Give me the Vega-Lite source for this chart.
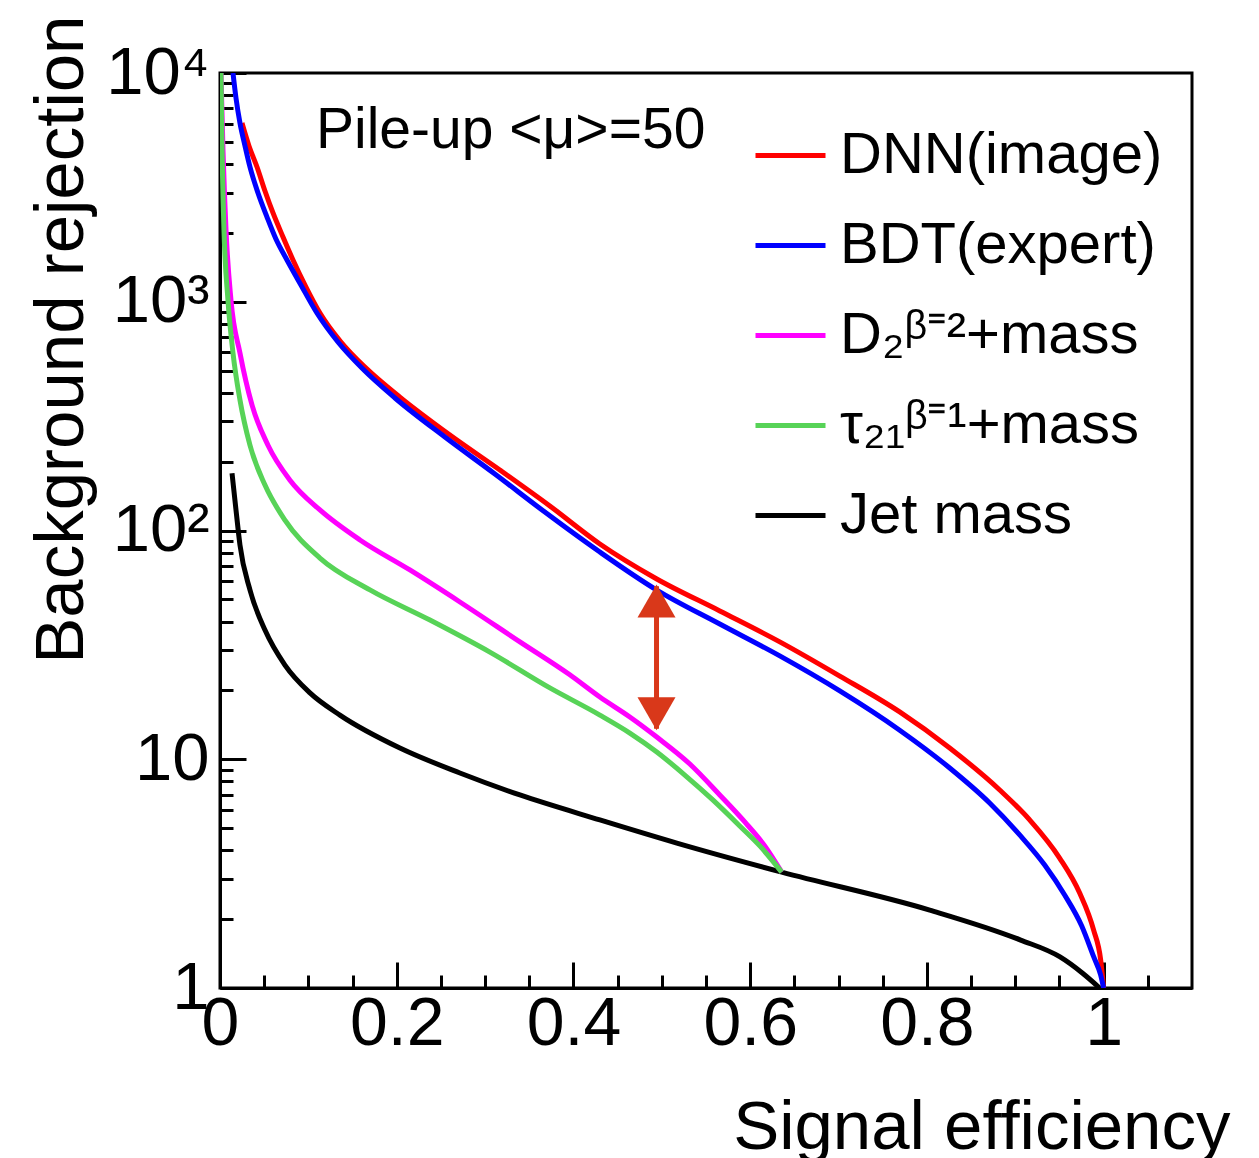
{
  "$schema": "https://vega.github.io/schema/vega-lite/v6.json",
  "width": 972,
  "height": 915,
  "autosize": {"type": "none"},
  "padding": {"left": 220, "top": 73, "right": 67, "bottom": 170},
  "background": "white",
  "config": {
    "view": {"stroke": "black", "strokeWidth": 3},
    "font": "Liberation Sans"
  },
  "datasets": {
    "roc": [
      {"method": "Jet mass", "eff": 0.0136, "rej": 178},
      {"method": "Jet mass", "eff": 0.0181, "rej": 123},
      {"method": "Jet mass", "eff": 0.0226, "rej": 86.4},
      {"method": "Jet mass", "eff": 0.0339, "rej": 55},
      {"method": "Jet mass", "eff": 0.0509, "rej": 36.7},
      {"method": "Jet mass", "eff": 0.0735, "rej": 25.8},
      {"method": "Jet mass", "eff": 0.1018, "rej": 19.5},
      {"method": "Jet mass", "eff": 0.1357, "rej": 15.6},
      {"method": "Jet mass", "eff": 0.2036, "rej": 11.2},
      {"method": "Jet mass", "eff": 0.2715, "rej": 8.71},
      {"method": "Jet mass", "eff": 0.3394, "rej": 6.98},
      {"method": "Jet mass", "eff": 0.4299, "rej": 5.43},
      {"method": "Jet mass", "eff": 0.517, "rej": 4.30},
      {"method": "Jet mass", "eff": 0.6357, "rej": 3.21},
      {"method": "Jet mass", "eff": 0.8032, "rej": 2.19},
      {"method": "Jet mass", "eff": 0.9061, "rej": 1.62},
      {"method": "Jet mass", "eff": 0.9502, "rej": 1.37},
      {"method": "Jet mass", "eff": 0.9762, "rej": 1.16},
      {"method": "Jet mass", "eff": 0.9955, "rej": 1.0},

      {"method": "DNN(image)", "eff": 0.0249, "rej": 6045},
      {"method": "DNN(image)", "eff": 0.0328, "rej": 4797},
      {"method": "DNN(image)", "eff": 0.0419, "rej": 3883},
      {"method": "DNN(image)", "eff": 0.0509, "rej": 3050},
      {"method": "DNN(image)", "eff": 0.06, "rej": 2444},
      {"method": "DNN(image)", "eff": 0.0713, "rej": 1919},
      {"method": "DNN(image)", "eff": 0.0826, "rej": 1523},
      {"method": "DNN(image)", "eff": 0.0973, "rej": 1160},
      {"method": "DNN(image)", "eff": 0.1131, "rej": 893},
      {"method": "DNN(image)", "eff": 0.1369, "rej": 667},
      {"method": "DNN(image)", "eff": 0.1652, "rej": 513},
      {"method": "DNN(image)", "eff": 0.2036, "rej": 383},
      {"method": "DNN(image)", "eff": 0.2602, "rej": 261.5},
      {"method": "DNN(image)", "eff": 0.3167, "rej": 183.9},
      {"method": "DNN(image)", "eff": 0.3733, "rej": 128},
      {"method": "DNN(image)", "eff": 0.4299, "rej": 87.3},
      {"method": "DNN(image)", "eff": 0.4943, "rej": 61.4},
      {"method": "DNN(image)", "eff": 0.5656, "rej": 44.5},
      {"method": "DNN(image)", "eff": 0.6335, "rej": 32.6},
      {"method": "DNN(image)", "eff": 0.7014, "rej": 23.1},
      {"method": "DNN(image)", "eff": 0.7692, "rej": 16.1},
      {"method": "DNN(image)", "eff": 0.8258, "rej": 11.2},
      {"method": "DNN(image)", "eff": 0.8824, "rej": 7.34},
      {"method": "DNN(image)", "eff": 0.9163, "rej": 5.43},
      {"method": "DNN(image)", "eff": 0.9502, "rej": 3.70},
      {"method": "DNN(image)", "eff": 0.9729, "rej": 2.60},
      {"method": "DNN(image)", "eff": 0.9887, "rej": 1.79},
      {"method": "DNN(image)", "eff": 0.9966, "rej": 1.33},
      {"method": "DNN(image)", "eff": 1.0, "rej": 1.0},

      {"method": "BDT(expert)", "eff": 0.0147, "rej": 10000},
      {"method": "BDT(expert)", "eff": 0.0181, "rej": 7777},
      {"method": "BDT(expert)", "eff": 0.0226, "rej": 6045},
      {"method": "BDT(expert)", "eff": 0.0283, "rej": 4797},
      {"method": "BDT(expert)", "eff": 0.0339, "rej": 3883},
      {"method": "BDT(expert)", "eff": 0.043, "rej": 2989},
      {"method": "BDT(expert)", "eff": 0.0532, "rej": 2346},
      {"method": "BDT(expert)", "eff": 0.0633, "rej": 1881},
      {"method": "BDT(expert)", "eff": 0.0758, "rej": 1523},
      {"method": "BDT(expert)", "eff": 0.0916, "rej": 1184},
      {"method": "BDT(expert)", "eff": 0.1097, "rej": 893},
      {"method": "BDT(expert)", "eff": 0.1335, "rej": 667},
      {"method": "BDT(expert)", "eff": 0.1606, "rej": 513},
      {"method": "BDT(expert)", "eff": 0.198, "rej": 379.6},
      {"method": "BDT(expert)", "eff": 0.2545, "rej": 256.3},
      {"method": "BDT(expert)", "eff": 0.3111, "rej": 176.6},
      {"method": "BDT(expert)", "eff": 0.3676, "rej": 120.4},
      {"method": "BDT(expert)", "eff": 0.4299, "rej": 80.5},
      {"method": "BDT(expert)", "eff": 0.4943, "rej": 54.9},
      {"method": "BDT(expert)", "eff": 0.5656, "rej": 39.0},
      {"method": "BDT(expert)", "eff": 0.6335, "rej": 28.3},
      {"method": "BDT(expert)", "eff": 0.7014, "rej": 19.9},
      {"method": "BDT(expert)", "eff": 0.7692, "rej": 13.4},
      {"method": "BDT(expert)", "eff": 0.8258, "rej": 9.16},
      {"method": "BDT(expert)", "eff": 0.871, "rej": 6.44},
      {"method": "BDT(expert)", "eff": 0.905, "rej": 4.67},
      {"method": "BDT(expert)", "eff": 0.9333, "rej": 3.45},
      {"method": "BDT(expert)", "eff": 0.9559, "rej": 2.55},
      {"method": "BDT(expert)", "eff": 0.9751, "rej": 1.87},
      {"method": "BDT(expert)", "eff": 0.9887, "rej": 1.37},
      {"method": "BDT(expert)", "eff": 0.9966, "rej": 1.14},
      {"method": "BDT(expert)", "eff": 1.0, "rej": 1.0},

      {"method": "D₂ᵝ⁼²+mass", "eff": 0.0011, "rej": 10000},
      {"method": "D₂ᵝ⁼²+mass", "eff": 0.0034, "rej": 4605},
      {"method": "D₂ᵝ⁼²+mass", "eff": 0.0068, "rej": 2060},
      {"method": "D₂ᵝ⁼²+mass", "eff": 0.0124, "rej": 1018},
      {"method": "D₂ᵝ⁼²+mass", "eff": 0.0226, "rej": 597},
      {"method": "D₂ᵝ⁼²+mass", "eff": 0.0362, "rej": 354},
      {"method": "D₂ᵝ⁼²+mass", "eff": 0.0543, "rej": 236},
      {"method": "D₂ᵝ⁼²+mass", "eff": 0.0792, "rej": 166},
      {"method": "D₂ᵝ⁼²+mass", "eff": 0.1131, "rej": 123},
      {"method": "D₂ᵝ⁼²+mass", "eff": 0.1584, "rej": 90.9},
      {"method": "D₂ᵝ⁼²+mass", "eff": 0.2149, "rej": 67.2},
      {"method": "D₂ᵝ⁼²+mass", "eff": 0.2715, "rej": 48.7},
      {"method": "D₂ᵝ⁼²+mass", "eff": 0.3394, "rej": 32.6},
      {"method": "D₂ᵝ⁼²+mass", "eff": 0.3959, "rej": 23.4},
      {"method": "D₂ᵝ⁼²+mass", "eff": 0.4299, "rej": 18.7},
      {"method": "D₂ᵝ⁼²+mass", "eff": 0.4638, "rej": 15.3},
      {"method": "D₂ᵝ⁼²+mass", "eff": 0.4943, "rej": 12.5},
      {"method": "D₂ᵝ⁼²+mass", "eff": 0.5317, "rej": 9.53},
      {"method": "D₂ᵝ⁼²+mass", "eff": 0.5656, "rej": 6.98},
      {"method": "D₂ᵝ⁼²+mass", "eff": 0.5939, "rej": 5.32},
      {"method": "D₂ᵝ⁼²+mass", "eff": 0.6165, "rej": 4.18},
      {"method": "D₂ᵝ⁼²+mass", "eff": 0.6357, "rej": 3.21},

      {"method": "τ₂₁ᵝ⁼¹+mass", "eff": 0.0011, "rej": 10000},
      {"method": "τ₂₁ᵝ⁼¹+mass", "eff": 0.0023, "rej": 4605},
      {"method": "τ₂₁ᵝ⁼¹+mass", "eff": 0.0045, "rej": 2060},
      {"method": "τ₂₁ᵝ⁼¹+mass", "eff": 0.009, "rej": 1018},
      {"method": "τ₂₁ᵝ⁼¹+mass", "eff": 0.0147, "rej": 597},
      {"method": "τ₂₁ᵝ⁼¹+mass", "eff": 0.0226, "rej": 372},
      {"method": "τ₂₁ᵝ⁼¹+mass", "eff": 0.0339, "rej": 236},
      {"method": "τ₂₁ᵝ⁼¹+mass", "eff": 0.0509, "rej": 158},
      {"method": "τ₂₁ᵝ⁼¹+mass", "eff": 0.0735, "rej": 111},
      {"method": "τ₂₁ᵝ⁼¹+mass", "eff": 0.1131, "rej": 75.8},
      {"method": "τ₂₁ᵝ⁼¹+mass", "eff": 0.1697, "rej": 55},
      {"method": "τ₂₁ᵝ⁼¹+mass", "eff": 0.2376, "rej": 40.6},
      {"method": "τ₂₁ᵝ⁼¹+mass", "eff": 0.3054, "rej": 29.4},
      {"method": "τ₂₁ᵝ⁼¹+mass", "eff": 0.3733, "rej": 20.5},
      {"method": "τ₂₁ᵝ⁼¹+mass", "eff": 0.4299, "rej": 15.6},
      {"method": "τ₂₁ᵝ⁼¹+mass", "eff": 0.4638, "rej": 13.02},
      {"method": "τ₂₁ᵝ⁼¹+mass", "eff": 0.4943, "rej": 10.76},
      {"method": "τ₂₁ᵝ⁼¹+mass", "eff": 0.526, "rej": 8.53},
      {"method": "τ₂₁ᵝ⁼¹+mass", "eff": 0.5577, "rej": 6.64},
      {"method": "τ₂₁ᵝ⁼¹+mass", "eff": 0.5882, "rej": 5.11},
      {"method": "τ₂₁ᵝ⁼¹+mass", "eff": 0.6109, "rej": 4.18},
      {"method": "τ₂₁ᵝ⁼¹+mass", "eff": 0.6357, "rej": 3.21}
    ],
    "arrow": [
      {"eff": 0.494, "top": 57, "bottom": 13.6, "headTop": 49.2, "headBottom": 15.8}
    ],
    "note": [
      {"eff": 0.1086, "rej": 4700, "text": "Pile-up <μ>=50"}
    ]
  },
  "layer": [
    {
      "data": {"name": "roc"},
      "mark": {"type": "line", "strokeWidth": 5, "interpolate": "monotone", "clip": true},
      "encoding": {
        "x": {
          "field": "eff",
          "type": "quantitative",
          "scale": {"domain": [0, 1.1], "nice": false, "zero": false},
          "axis": {
            "values": [0, 0.05, 0.1, 0.15, 0.2, 0.25, 0.3, 0.35, 0.4, 0.45, 0.5, 0.55, 0.6, 0.65, 0.7, 0.75, 0.8, 0.85, 0.9, 0.95, 1.0, 1.05],
            "labelExpr": "abs(datum.value*5 - round(datum.value*5)) < 0.001 && datum.value < 1.01 ? toString(round(datum.value*10)/10) : ''",
            "labelFontSize": 68,
            "labelFont": "Liberation Sans",
            "labelColor": "black",
            "labelPadding": 28,
            "labelFlush": false,
            "labelOverlap": false,
            "labelBound": false,
            "domainColor": "black",
            "domainWidth": 3,
            "tickColor": "black",
            "tickWidth": 3,
            "tickSize": {"condition": {"test": "abs(datum.value*5 - round(datum.value*5)) < 0.001", "value": -26}, "value": -13},
            "grid": false,
            "title": "Signal efficiency",
            "titleFont": "Liberation Sans",
            "titleFontSize": 69,
            "titleFontWeight": "normal",
            "titleColor": "black",
            "titleX": 1010,
            "titleY": 160,
            "titleAlign": "right",
            "titleBaseline": "alphabetic",
            "titleAngle": 0
          }
        },
        "y": {
          "field": "rej",
          "type": "quantitative",
          "scale": {"type": "log", "domain": [1, 10000], "nice": false},
          "axis": {
            "values": [1, 2, 3, 4, 5, 6, 7, 8, 9, 10, 20, 30, 40, 50, 60, 70, 80, 90, 100, 200, 300, 400, 500, 600, 700, 800, 900, 1000, 2000, 3000, 4000, 5000, 6000, 7000, 8000, 9000, 10000],
            "labelExpr": "datum.value == 1 ? '1' : datum.value == 10 ? '10' : datum.value == 100 ? '10²' : datum.value == 1000 ? '10³' : datum.value == 10000 ? '10⁴' : ''",
            "labelFontSize": 67,
            "labelFont": "Liberation Sans",
            "labelColor": "black",
            "labelPadding": 37,
            "labelFlush": false,
            "labelOverlap": false,
            "labelBound": false,
            "domainColor": "black",
            "domainWidth": 3,
            "tickColor": "black",
            "tickWidth": 3,
            "tickSize": {"condition": {"test": "indexof([1, 10, 100, 1000, 10000], datum.value) >= 0", "value": -26}, "value": -13},
            "grid": false,
            "title": "Background rejection",
            "titleFont": "Liberation Sans",
            "titleFontSize": 69,
            "titleFontWeight": "normal",
            "titleColor": "black",
            "titleX": -138,
            "titleY": -58,
            "titleAngle": 270,
            "titleAlign": "right",
            "titleBaseline": "alphabetic"
          }
        },
        "color": {
          "field": "method",
          "type": "nominal",
          "scale": {
            "domain": ["DNN(image)", "BDT(expert)", "D₂ᵝ⁼²+mass", "τ₂₁ᵝ⁼¹+mass", "Jet mass"],
            "range": ["#ff0000", "#0000ff", "#ff00ff", "#57d357", "#000000"]
          },
          "legend": {
            "orient": "none",
            "legendX": 533,
            "legendY": 45,
            "title": null,
            "padding": 0,
            "symbolType": "stroke",
            "symbolSize": 4900,
            "symbolStrokeWidth": 5,
            "labelFontSize": 58,
            "labelFont": "Liberation Sans",
            "labelColor": "black",
            "labelOffset": 12,
            "labelLimit": 700,
            "rowPadding": 23
          }
        }
      }
    },
    {
      "data": {"name": "arrow"},
      "mark": {"type": "rule", "color": "#d9381a", "strokeWidth": 5},
      "encoding": {
        "x": {"field": "eff", "type": "quantitative"},
        "y": {"field": "top", "type": "quantitative"},
        "y2": {"field": "bottom"}
      }
    },
    {
      "data": {"name": "arrow"},
      "mark": {"type": "point", "shape": "triangle-up", "size": 1444, "filled": true, "color": "#d9381a", "opacity": 1},
      "encoding": {
        "x": {"field": "eff", "type": "quantitative"},
        "y": {"field": "headTop", "type": "quantitative"}
      }
    },
    {
      "data": {"name": "arrow"},
      "mark": {"type": "point", "shape": "triangle-down", "size": 1444, "filled": true, "color": "#d9381a", "opacity": 1},
      "encoding": {
        "x": {"field": "eff", "type": "quantitative"},
        "y": {"field": "headBottom", "type": "quantitative"}
      }
    },
    {
      "data": {"name": "note"},
      "mark": {"type": "text", "align": "left", "baseline": "alphabetic", "fontSize": 57, "font": "Liberation Sans", "color": "black"},
      "encoding": {
        "x": {"field": "eff", "type": "quantitative"},
        "y": {"field": "rej", "type": "quantitative"},
        "text": {"field": "text"}
      }
    }
  ]
}
